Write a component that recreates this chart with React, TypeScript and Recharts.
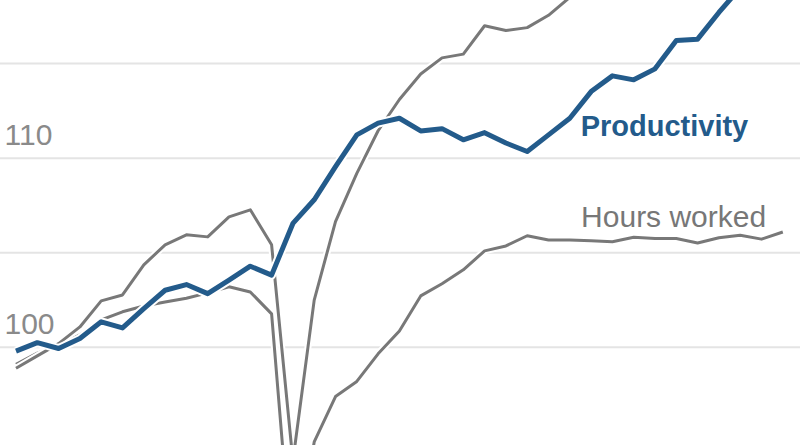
import React from 'react';
import { LineChart, Line, XAxis, YAxis, CartesianGrid, ReferenceDot, ReferenceLine } from 'recharts';

// Quarter index (0 = first quarter shown, 36 = last)
const quarterIndex = [
  0, 1, 2, 3, 4, 5, 6, 7, 8, 9, 10, 11, 12, 13, 14, 15, 16, 17, 18,
  19, 20, 21, 22, 23, 24, 25, 26, 27, 28, 29, 30, 31, 32, 33, 34, 35, 36,
];

// Index values
const productivity = [
  99.8, 100.25, 99.94, 100.47, 101.35, 101.03, 102.05, 103.02, 103.32, 102.84,
  103.55, 104.29, 103.82, 106.55, 107.8, 109.55, 111.23, 111.85, 112.11, 111.44,
  111.56, 110.97, 111.35, 110.8, 110.35, 111.23, 112.11, 113.52, 114.35, 114.14,
  114.72, 116.22, 116.29, 117.7, 119.0, 119.8, 120.5,
];

const output = [
  98.9, 99.55, 100.2, 101.08, 102.46, 102.77, 104.36, 105.42, 105.95, 105.84,
  106.9, 107.27, 105.42, 94.0, 102.5, 106.65, 109.2, 111.45, 113.1, 114.45,
  115.3, 115.5, 117.0, 116.75, 116.9, 117.55, 118.5, 119.9, 120.7, 120.8,
  121.3, 122.9, 122.7, 124.5, 126.1, 126.7, 127.8,
];

const hours = [
  99.1, 99.7, 100.1, 100.66, 101.45, 101.88, 102.19, 102.4, 102.6, 102.88,
  103.2, 102.93, 101.77, 88.2, 95.0, 97.4, 98.2, 99.66, 100.87, 102.72,
  103.36, 104.1, 105.1, 105.36, 105.9, 105.68, 105.68, 105.64, 105.58, 105.82,
  105.75, 105.75, 105.52, 105.79, 105.93, 105.72, 106.1,
];

const yTicks = [95, 100, 105, 110, 115];
const labeledTicks = [100, 110];

const data = quarterIndex.map((q, i) => ({
  q,
  productivity: productivity[i],
  output: output[i],
  hours: hours[i],
}));

const FONT = '"Liberation Sans", Arial, Helvetica, sans-serif';
const BLUE = '#235b8b';
const GRAY = '#787878';

const makeTickLabel = (value: number) => (props: any) => {
  const vb = props.viewBox || {};
  return (
    <text x={(vb.x || 0) + 4.5} y={(vb.y || 0) - 13.5} fill="#8a8a8a" fontSize={30} fontFamily={FONT} textAnchor="start">
      {value}
    </text>
  );
};

const prodLabel = (props: any) => {
  const vb = props.viewBox || {};
  return (
    <text x={vb.x} y={vb.y} fill={BLUE} fontSize={29} fontWeight={700} fontFamily={FONT} textAnchor="start">
      Productivity
    </text>
  );
};

const hoursLabel = (props: any) => {
  const vb = props.viewBox || {};
  return (
    <text x={vb.x} y={vb.y} fill="#777777" fontSize={30} fontFamily={FONT} textAnchor="start">
      Hours worked
    </text>
  );
};

export default function App() {
  return (
    <div style={{ position: 'absolute', left: 0, top: 0, width: 800, height: 445, background: '#fff' }}>
      <LineChart width={800} height={445} data={data} margin={{ top: 0, right: 0, bottom: 0, left: 0 }}>
        <CartesianGrid vertical={false} stroke="#e4e4e4" strokeWidth={2} horizontalValues={yTicks} />
        <XAxis dataKey="q" type="number" domain={[-0.751, 36.807]} allowDataOverflow hide />
        <YAxis type="number" domain={[94.84, 118.36]} ticks={yTicks} allowDataOverflow hide />
        {labeledTicks.map((t) => (
          <ReferenceLine key={t} y={t} stroke="none" label={makeTickLabel(t)} />
        ))}
        <Line dataKey="hours" stroke="#fff" strokeWidth={7} dot={false} activeDot={false} isAnimationActive={false} strokeLinejoin="round" />
        <Line dataKey="hours" stroke={GRAY} strokeWidth={3} dot={false} activeDot={false} isAnimationActive={false} strokeLinejoin="round" />
        <Line dataKey="output" stroke="#fff" strokeWidth={7} dot={false} activeDot={false} isAnimationActive={false} strokeLinejoin="round" />
        <Line dataKey="output" stroke={GRAY} strokeWidth={3} dot={false} activeDot={false} isAnimationActive={false} strokeLinejoin="round" />
        <Line dataKey="productivity" stroke="#fff" strokeWidth={9} dot={false} activeDot={false} isAnimationActive={false} strokeLinejoin="round" />
        <Line dataKey="productivity" stroke={BLUE} strokeWidth={5} dot={false} activeDot={false} isAnimationActive={false} strokeLinejoin="round" />
        <ReferenceDot x={26.51} y={111.15} r={0} fill="none" stroke="none" ifOverflow="visible" label={prodLabel} />
        <ReferenceDot x={26.53} y={106.385} r={0} fill="none" stroke="none" ifOverflow="visible" label={hoursLabel} />
      </LineChart>
    </div>
  );
}
